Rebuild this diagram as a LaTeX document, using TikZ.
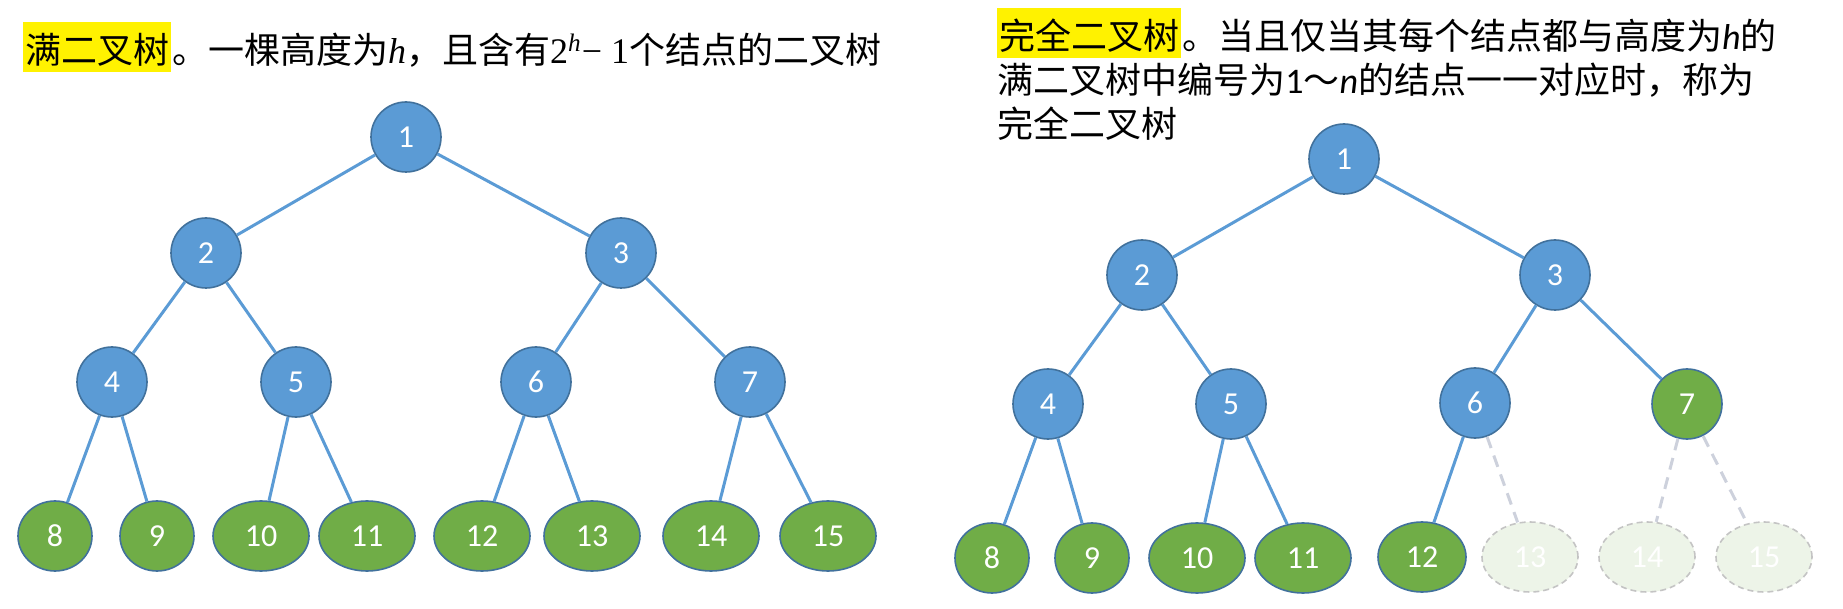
\documentclass[tikz,border=0pt]{standalone}
\usepackage{fontspec}
\setmainfont{Noto Sans CJK SC}
\newfontfamily\calibri{Carlito}
\newfontfamily\tnr{Liberation Serif}
\usetikzlibrary{shapes.geometric,positioning}
\definecolor{nodeblue}{HTML}{5B9BD5}
\definecolor{nodegreen}{HTML}{70AD47}
\definecolor{rimblue}{HTML}{41719C}
\definecolor{ghostfill}{HTML}{EDF4E8}
\definecolor{ghostrim}{HTML}{C4C4C4}
\definecolor{ghostline}{HTML}{CDD1DC}
\tikzset{
	bluenode/.style={ellipse, draw=rimblue, line width=0.8pt, fill=nodeblue, text=white,
		font=\calibri\fontsize{16}{16}\selectfont, minimum width=35pt, minimum height=35pt, inner sep=0pt},
	leaf/.style={bluenode, fill=nodegreen, minimum width=37pt},
	wideleaf/.style={leaf, minimum width=48pt},
	ghost/.style={wideleaf, fill=ghostfill, draw=ghostrim, dash pattern=on 3pt off 2pt},
	branch/.style={draw=nodeblue, line width=1.5pt},
	ghostbranch/.style={draw=ghostline, line width=1.5pt, dash pattern=on 6pt off 4pt},
	caption/.style={font=\fontsize{18}{22}\selectfont, inner sep=0pt, anchor=base west},
	hl/.style={caption, fill=yellow, inner xsep=1pt, text height=21pt, text depth=4pt}
}

\begin{document}
\begin{tikzpicture}[x=0.5pt, y=-0.5pt]
	\useasboundingbox (0,0) rectangle (1843,609);
	
	\node[hl] (lh) at (23,64) {满二叉树};
	\node[caption] (lt) at (lh.base east) {。一棵高度为{\tnr\itshape h}，且含有{\tnr 2\textsuperscript{\itshape h}− 1}个结点的二叉树};
	
	\node[hl] (rh) at (997,50) {完全二叉树};
	\node[caption] (rt1) at (rh.base east) {。当且仅当其每个结点都与高度为{\calibri\itshape h}的};
	\node[caption] (rt2) at (997,94) {满二叉树中编号为{\calibri 1}～{\calibri\itshape n}的结点一一对应时，称为};
	\node[caption] (rt3) at (997,138) {完全二叉树};
	
	\node[bluenode] (l1) at (406,137) {1};
	\node[bluenode] (l2) at (206,253) {2};
	\node[bluenode] (l3) at (621,253) {3};
	\node[bluenode] (l4) at (112,382) {4};
	\node[bluenode] (l5) at (296,382) {5};
	\node[bluenode] (l6) at (536,382) {6};
	\node[bluenode] (l7) at (750,382) {7};
	\node[leaf] (l8) at (55,536) {8};
	\node[leaf] (l9) at (157,536) {9};
	\node[wideleaf] (l10) at (261,536) {10};
	\node[wideleaf] (l11) at (367,536) {11};
	\node[wideleaf] (l12) at (482,536) {12};
	\node[wideleaf] (l13) at (592,536) {13};
	\node[wideleaf] (l14) at (711,536) {14};
	\node[wideleaf] (l15) at (828,536) {15};
	
	\draw[branch] (l1) -- (l2) (l1) -- (l3)
		(l2) -- (l4) (l2) -- (l5) (l3) -- (l6) (l3) -- (l7)
		(l4) -- (l8) (l4) -- (l9) (l5) -- (l10) (l5) -- (l11)
		(l6) -- (l12) (l6) -- (l13) (l7) -- (l14) (l7) -- (l15);
	
	\node[bluenode] (r1) at (1344,159) {1};
	\node[bluenode] (r2) at (1142,275) {2};
	\node[bluenode] (r3) at (1555,275) {3};
	\node[bluenode] (r4) at (1048,404) {4};
	\node[bluenode] (r5) at (1231,404) {5};
	\node[bluenode] (r6) at (1475,403) {6};
	\node[leaf, minimum width=35pt] (r7) at (1687,404) {7};
	\node[leaf] (r8) at (992,558) {8};
	\node[leaf] (r9) at (1092,558) {9};
	\node[wideleaf] (r10) at (1197,558) {10};
	\node[wideleaf] (r11) at (1303,558) {11};
	\node[wideleaf, minimum width=44pt] (r12) at (1422,557) {12};
	\node[ghost] (r13) at (1530,557) {13};
	\node[ghost] (r14) at (1647,557) {14};
	\node[ghost] (r15) at (1764,557) {15};
	
	\draw[branch] (r1) -- (r2) (r1) -- (r3)
		(r2) -- (r4) (r2) -- (r5) (r3) -- (r6) (r3) -- (r7)
		(r4) -- (r8) (r4) -- (r9) (r5) -- (r10) (r5) -- (r11)
		(r6) -- (r12);
	\draw[ghostbranch] (r6) -- (r13) (r7) -- (r14) (r7) -- (r15);
\end{tikzpicture}
\end{document}
